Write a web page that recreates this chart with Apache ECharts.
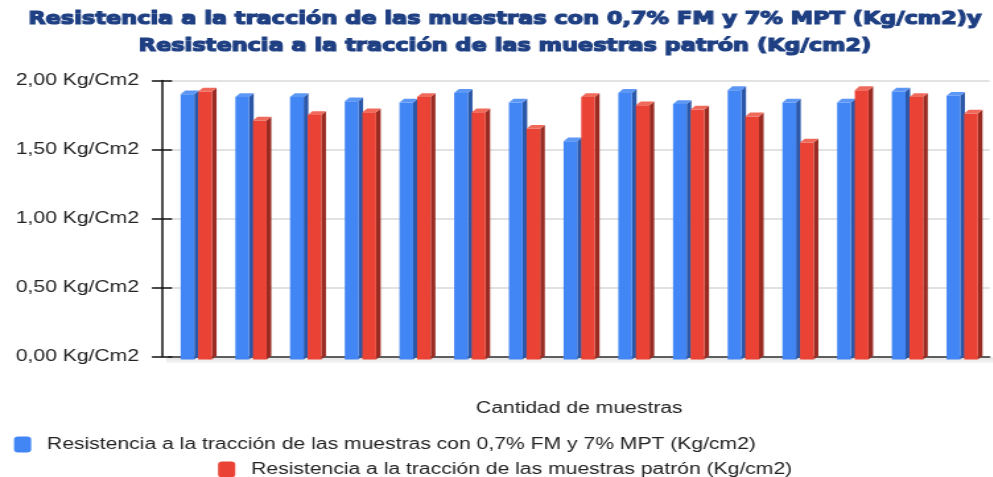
<!DOCTYPE html>
<html>
<head>
<meta charset="utf-8">
<script src="https://cdn.jsdelivr.net/npm/echarts@6/dist/echarts.min.js"></script>
<style>
  html, body { margin: 0; padding: 0; background: #fff; overflow: hidden; }
  #wrap { width: 993px; height: 477px; overflow: hidden; }
  /* the chart is laid out narrow and widened horizontally */
  #chart { width: 752.3px; height: 477px; transform: scaleX(1.32); transform-origin: 0 0; }
</style>
</head>
<body>
<div id="wrap"><div id="chart"></div></div>
<script>
// Muestras ensayadas
const samples = ['1', '2', '3', '4', '5', '6', '7', '8', '9', '10', '11', '12', '13', '14', '15'];

// Resistencia a la tracción (Kg/cm2)
const withAdditives = [1.90, 1.88, 1.88, 1.85, 1.84, 1.91, 1.84, 1.56, 1.91, 1.83, 1.93, 1.84, 1.84, 1.92, 1.89];
const reference     = [1.92, 1.71, 1.75, 1.77, 1.88, 1.77, 1.65, 1.88, 1.82, 1.79, 1.74, 1.55, 1.93, 1.88, 1.76];

const seriesNames = [
  'Resistencia a la tracción de las muestras con 0,7% FM y 7% MPT (Kg/cm2)',
  'Resistencia a la tracción de las muestras patrón (Kg/cm2)'
];
const titleLines = [
  'Resistencia a la tracción de las muestras con 0,7% FM y 7% MPT (Kg/cm2)y',
  'Resistencia a la tracción de las muestras patrón (Kg/cm2)'
];
const yTicks = [0, 0.5, 1, 1.5, 2];
const yUnit = 'Kg/Cm2';
const xAxisName = 'Cantidad de muestras';

const blueShades = { front: '#4285F4', side: '#2B57A8', top: '#5C97F6' };
const redShades  = { front: '#EA4335', side: '#992B22', top: '#F06A5C' };

// draws a bar with a lit top and a shaded side to give it depth
function bar3d(shift, shades) {
  return function (params, api) {
    const idx = api.value(0);
    const val = api.value(1);
    const top = api.coord([idx, val]);
    const base = api.coord([idx, 0]);
    const bw = api.size([1, 0])[0];
    const w = bw * 0.25;
    const dx = bw * 0.085;
    const dy = -3.8;
    const xl = top[0] + shift * bw;
    const xr = xl + w;
    const yt = top[1];
    const yb = base[1] + 3;
    return {
      type: 'group',
      children: [
        { type: 'polygon', shape: { points: [[xr, yt], [xr + dx, yt + dy], [xr + dx, yb + dy], [xr, yb]] },
          style: { fill: shades.side } },
        { type: 'rect', shape: { x: xl, y: yt, width: w, height: yb - yt },
          style: { fill: shades.front } },
        { type: 'polygon', shape: { points: [[xl, yt], [xl + dx, yt + dy], [xr + dx, yt + dy], [xr, yt]] },
          style: { fill: shades.top } }
      ]
    };
  };
}

const chart = echarts.init(document.getElementById('chart'));
const labelFont = 'Liberation Sans, Arial, sans-serif';
const legendText = { fontFamily: labelFont, fontSize: 16, color: '#222', padding: [0, 0, 0, 7] };

chart.setOption({
  animation: false,
  title: {
    text: titleLines.join('\n'),
    left: 382.6,
    textAlign: 'center',
    top: 6,
    padding: 0,
    textStyle: {
      fontFamily: 'DejaVu Sans',
      fontWeight: 'bold',
      fontSize: 17,
      lineHeight: 27,
      color: '#1E3F82',
      textBorderColor: '#1E3F82',
      textBorderWidth: 1.2
    }
  },
  legend: [
    {
      data: [{ name: seriesNames[0], icon: 'roundRect' }],
      left: 10.6, top: 436.5, padding: 0,
      itemWidth: 13, itemHeight: 16,
      textStyle: legendText
    },
    {
      data: [{ name: seriesNames[1], icon: 'roundRect' }],
      left: 165.2, top: 461.5, padding: 0,
      itemWidth: 13, itemHeight: 16,
      textStyle: legendText
    }
  ],
  grid: { left: 128, right: 2.3, top: 80.5, bottom: 120.5, containLabel: false },
  xAxis: {
    type: 'category',
    data: samples,
    name: xAxisName,
    nameLocation: 'middle',
    nameGap: 44,
    nameTextStyle: { fontFamily: labelFont, fontSize: 16, color: '#222' },
    axisLine: { show: true, lineStyle: { color: '#333', width: 1.5 } },
    axisTick: { show: false },
    axisLabel: { show: false },
    splitLine: { show: false }
  },
  yAxis: [
    {
      type: 'value',
      min: yTicks[0], max: yTicks[yTicks.length - 1], interval: yTicks[1] - yTicks[0],
      offset: 5.3,
      axisLine: { show: true, lineStyle: { color: '#111', width: 1.5 } },
      axisTick: { show: true, inside: false, length: 7.6, lineStyle: { color: '#111', width: 1.5 } },
      axisLabel: {
        margin: 17.4,
        fontFamily: labelFont, fontSize: 16, color: '#222',
        formatter: v => v.toFixed(2).replace('.', ',') + ' ' + yUnit
      },
      splitLine: { show: true, lineStyle: { color: '#D9D9D9', width: 1.5 } }
    },
    {
      type: 'value',
      position: 'left',
      min: yTicks[0], max: yTicks[yTicks.length - 1], interval: yTicks[1] - yTicks[0],
      offset: 5.3,
      axisLine: { show: false },
      axisTick: { show: true, inside: true, length: 7.6, lineStyle: { color: '#111', width: 1.5 } },
      axisLabel: { show: false },
      splitLine: { show: false }
    }
  ],
  graphic: [
    {
      type: 'rect', z: -1,
      shape: { x: 125.8, y: 357.5, width: 627, height: 5.5 },
      style: {
        fill: new echarts.graphic.LinearGradient(0, 0, 0, 1, [
          { offset: 0, color: '#E4E4E4' }, { offset: 1, color: '#F6F6F6' }
        ])
      }
    }
  ],
  series: [
    {
      name: seriesNames[0],
      type: 'custom',
      yAxisIndex: 0,
      itemStyle: { color: blueShades.front },
      renderItem: bar3d(-0.287, blueShades),
      encode: { x: 0, y: 1 },
      data: withAdditives.map((v, i) => [i, v]),
      z: 3
    },
    {
      name: seriesNames[1],
      type: 'custom',
      yAxisIndex: 0,
      itemStyle: { color: redShades.front },
      renderItem: bar3d(0.035, redShades),
      encode: { x: 0, y: 1 },
      data: reference.map((v, i) => [i, v]),
      z: 4
    }
  ]
});
</script>
</body>
</html>
